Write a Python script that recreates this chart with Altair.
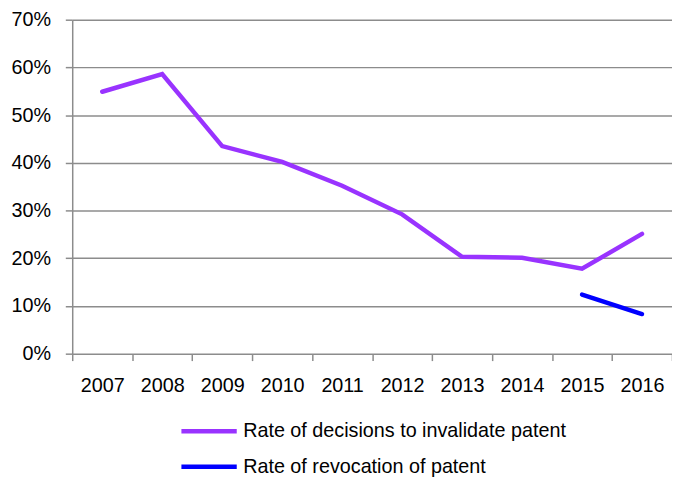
import altair as alt
import pandas as pd

years = ["2007", "2008", "2009", "2010", "2011", "2012", "2013", "2014", "2015", "2016"]
invalidate = [0.549, 0.586, 0.435, 0.402, 0.352, 0.292, 0.203, 0.201, 0.178, 0.251]
rev_years = ["2015", "2016"]
revocation = [0.124, 0.083]
series = ["Rate of decisions to invalidate patent", "Rate of revocation of patent"]
colors = ["#9933FF", "#0000FF"]
y_ticks = [0, 0.1, 0.2, 0.3, 0.4, 0.5, 0.6, 0.7]

rows = [{"year": y, "value": v, "series": series[0]} for y, v in zip(years, invalidate)]
rows += [{"year": y, "value": v, "series": series[1]} for y, v in zip(rev_years, revocation)]
df = pd.DataFrame(rows)

FONT = "Liberation Sans"

chart = alt.Chart(df).mark_line(strokeWidth=4.5, strokeCap="round").encode(
    x=alt.X("year:N", sort=years, scale=alt.Scale(domain=years, paddingInner=0, paddingOuter=0),
            axis=alt.Axis(title=None, labelAngle=0, grid=False, domain=False, tickBand="extent",
                          tickColor="#8c8c8c", tickWidth=1.5, tickSize=7, labelFontSize=20,
                          labelFont=FONT, labelColor="#000000", labelPadding=15)),
    y=alt.Y("value:Q", scale=alt.Scale(domain=[0, 0.7], nice=False),
            axis=alt.Axis(title=None, format=".0%", values=y_ticks, grid=True, gridColor="#8c8c8c",
                          gridWidth=1.5, domainColor="#8c8c8c", domainWidth=1.5, tickColor="#8c8c8c",
                          tickWidth=1.5, tickSize=7, labelFontSize=20, labelFont=FONT,
                          labelColor="#000000", labelPadding=15)),
    color=alt.Color("series:N", scale=alt.Scale(domain=series, range=colors),
                    legend=alt.Legend(title=None, orient="none", legendX=126, legendY=404,
                                      symbolType="M-2.8,0H2.8", symbolSize=400, symbolStrokeWidth=4.5,
                                      labelFontSize=20, labelFont=FONT, labelColor="#000000",
                                      labelOffset=22, rowPadding=13, labelLimit=500,
                                      direction="vertical")),
    detail="series:N",
).properties(
    width=607, height=338,
    autosize=alt.AutoSizeParams(type="none"),
    padding={"left": 65, "top": 9, "right": 0, "bottom": 125},
).configure_view(stroke=None)

chart.save("out.html", embed_options={"renderer": "svg", "actions": False})
